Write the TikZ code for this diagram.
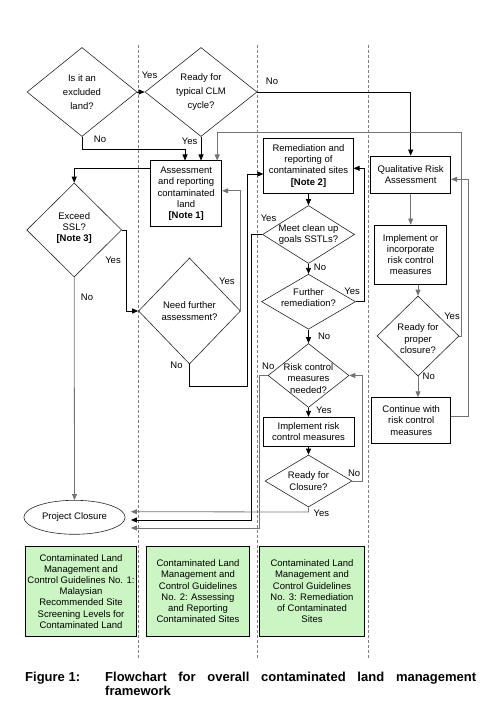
\documentclass[tikz,border=0pt]{standalone}
\usepackage{fontspec}
\setmainfont{Liberation Sans}
\usetikzlibrary{shapes.geometric, arrows.meta}
\definecolor{guidegreen}{RGB}{204,245,196}

\begin{document}
\begin{tikzpicture}[x=1pt, y=-1pt,
    txt/.style={font=\fontsize{9.5}{11.2}\selectfont, align=center},
    box/.style={txt, draw, line width=0.9pt, inner sep=1pt},
    guide/.style={box, fill=guidegreen},
    dia/.style={diamond, draw=black!85, line width=0.6pt, inner sep=0pt},
    dtxt/.style={font=\fontsize{9.5}{11.4}\selectfont, align=center, inner sep=0pt},
    lbl/.style={font=\fontsize{9.5}{11}\selectfont, inner sep=0pt},
    conn/.style={line width=0.8pt, -{Triangle[length=6pt, width=5pt]}},
    conng/.style={conn, draw=black!55},
    lane/.style={draw=black!50, line width=0.8pt, dash pattern=on 3pt off 2pt}]
  \useasboundingbox (0,0) rectangle (499,711);

  \foreach \x in {138,257,368.7}
    \draw[lane] (\x,45) -- (\x,659);

  \node[dia, minimum width=110, minimum height=89,
    label={[dtxt, font=\fontsize{9.5}{14}\selectfont]center:Is it an\\excluded\\land?}] (excl) at (82,92) {};
  \node[dia, minimum width=112, minimum height=89,
    label={[dtxt, font=\fontsize{9.5}{14}\selectfont]center:Ready for\\typical CLM\\cycle?}] (clm) at (201,92) {};
  \node[box, minimum width=71, minimum height=65.7] (assess) at (186.2,193.8)
    {Assessment\\and reporting\\contaminated\\land\\\textbf{[Note 1]}};
  \node[dia, minimum width=95, minimum height=94,
    label={[dtxt, yshift=2pt]center:Exceed\\SSL?\\\textbf{[Note 3]}}] (ssl) at (74.2,230) {};
  \node[dia, minimum width=102, minimum height=106,
    label={[dtxt]center:Need further\\assessment?}] (need) at (189.5,311) {};
  \node[ellipse, draw=black!85, line width=0.6pt, minimum width=96, minimum height=34, txt] (close) at (74.5,517.3) {Project Closure};

  \node[box, minimum width=89.3, minimum height=55] (remed) at (308.5,165.8)
    {Remediation and\\reporting of\\contaminated sites\\\textbf{[Note 2]}};
  \node[dia, minimum width=92, minimum height=58,
    label={[dtxt]center:Meet clean up\\goals SSTLs?}] (meet) at (308.5,234.5) {};
  \node[dia, minimum width=94, minimum height=55,
    label={[dtxt, yshift=4pt]center:Further\\remediation?}] (further) at (308.5,301.7) {};
  \node[dia, minimum width=81, minimum height=64,
    label={[dtxt, yshift=-3pt]center:Risk control\\measures\\needed?}] (risk) at (308.5,375.5) {};
  \node[box, minimum width=91, minimum height=28.7] (impl) at (308.5,431.7)
    {Implement risk\\control measures};
  \node[dia, minimum width=87, minimum height=52,
    label={[dtxt]center:Ready for\\Closure?}] (rfc) at (308.5,481) {};

  \node[box, minimum width=79.7, minimum height=37.3] (qra) at (410.7,174.7)
    {Qualitative Risk\\Assessment};
  \node[box, minimum width=72.4, minimum height=59.3] (inc) at (410.7,254.7)
    {Implement or\\incorporate\\risk control\\measures};
  \node[dia, minimum width=82, minimum height=80,
    label={[dtxt, yshift=-3pt]center:Ready for\\proper\\closure?}] (proper) at (418,336) {};
  \node[box, minimum width=79, minimum height=45.6] (cont) at (411.2,420.5)
    {Continue with\\risk control\\measures};

  \node[guide, minimum width=111.4, minimum height=90.7] (guideA) at (81,591.3)
    {Contaminated Land\\Management and\\Control Guidelines No. 1:\\Malaysian\\Recommended Site\\Screening Levels for\\Contaminated Land};
  \node[guide, minimum width=102.6, minimum height=90.7] (guideB) at (198,591.3)
    {Contaminated Land\\Management and\\Control Guidelines\\No. 2: Assessing\\and Reporting\\Contaminated Sites};
  \node[guide, minimum width=105.4, minimum height=90.7] (guideC) at (312,591.3)
    {Contaminated Land\\Management and\\Control Guidelines\\No. 3: Remediation\\of Contaminated\\Sites};

  \node[font=\fontsize{13}{14}\selectfont\bfseries, anchor=base west, inner sep=0] (fig) at (25,681) {Figure 1:};
  \node[font=\fontsize{13}{14}\selectfont\bfseries, anchor=base west, inner sep=0, text width=371, align=left] (cap) at (105,681)
    {Flowchart\hfill for\hfill overall\hfill contaminated\hfill land\hfill management\\framework};

  \draw[conn] (excl.east) -- (clm.west) node[lbl] at (149.5,75) {Yes};
  \draw[conn] (clm.east) -| (qra.north) node[lbl] at (272,81.7) {No};
  \draw[conn] (excl.south) -- ++(0,12.3) -| ([xshift=-1.2pt]assess.north) node[lbl] at (100,139) {No};
  \draw[conn] (clm.south) -- (clm.south |- assess.north) node[lbl] at (189.7,141.7) {Yes};
  \draw[conng] (proper.east) -| (461,132.3) -| ([xshift=31pt]assess.north) node[lbl] at (452,316) {Yes};
  \draw[conn] (assess.west |- 0,168.3) -| (ssl.north);
  \draw[conn] (ssl.east) -- ++(4.5,0) |- (need.west) node[lbl] at (113,260.7) {Yes};
  \draw[conng] (ssl.south) -- (close.north) node[lbl] at (87,297.7) {No};
  \draw[conng] (need.east) |- ([yshift=3pt]assess.east) node[lbl] at (226.8,281.7) {Yes};
  \draw[conn] (need.south) |- (247,386) |- ([yshift=-8.2pt]remed.west) node[lbl] at (176.5,365.7) {No};
  \draw[conn] (remed.south) -- (meet.north);
  \draw[conn, shorten >=5.5pt] (meet.west) -| (251.7,520) -- (close.east |- 0,520) node[lbl] at (268.5,217.8) {Yes};
  \draw[conn] (meet.south) -- (further.north) node[lbl] at (320,267.7) {No};
  \draw[conn] (further.east) -- ++(9,0) |- ([yshift=-2.5pt]remed.east) node[lbl] at (352.2,291.7) {Yes};
  \draw[conn] (further.south) -- (risk.north) node[lbl] at (324.2,336) {No};
  \draw[conng, shorten >=5.5pt] (risk.west) -| (259.3,528) -- (close.east |- 0,528) node[lbl] at (268.3,366) {No};
  \draw[conn] (risk.south) -- (impl.north) node[lbl] at (323.8,410) {Yes};
  \draw[conn] (impl.south) -- (rfc.north);
  \draw[conng] (rfc.east) -- ++(9.7,0) |- (risk.east) node[lbl] at (354.2,473.3) {No};
  \draw[conng, shorten >=5.5pt] (rfc.south) -- ++(0,4.7) -- (close.east |- 0,511.7) node[lbl] at (321.3,513.3) {Yes};
  \draw[conng] (qra.south) -- (inc.north);
  \draw[conng] ([xshift=7.3pt]inc.south) -- (proper.north);
  \draw[conng] (proper.south) -- (proper.south |- cont.north) node[lbl] at (428.8,376.7) {No};
  \draw[conng] ([yshift=4.5pt]cont.east) -- ++(17,0) |- ([yshift=-4.6pt]qra.east);
\end{tikzpicture}
\end{document}
